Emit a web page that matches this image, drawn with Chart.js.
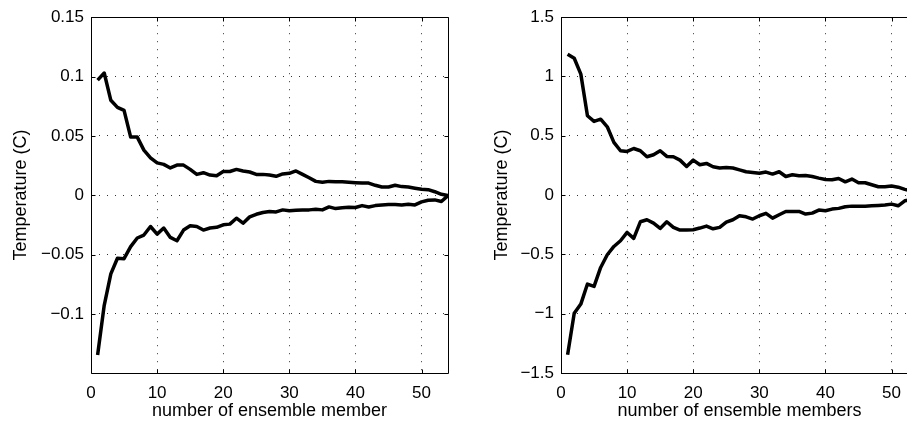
<!DOCTYPE html>
<html><head><meta charset="utf-8">
<script src="https://cdn.jsdelivr.net/npm/chart.js@4"></script>
<style>
html,body{margin:0;padding:0;background:#fff;overflow:hidden;width:907px;height:422px;position:relative}
#c1{position:absolute;left:0;top:0}
#c2{position:absolute;left:460px;top:0}
</style></head>
<body>
<canvas id="c1" width="460" height="422"></canvas>
<canvas id="c2" width="470" height="422"></canvas>
<script>
// ---- data ----
const members = [1,2,3,4,5,6,7,8,9,10,11,12,13,14,15,16,17,18,19,20,21,22,23,24,25,26,27,28,29,30,31,32,33,34,35,36,37,38,39,40,41,42,43,44,45,46,47,48,49,50,51,52,53,54];

const leftUpper = [0.097,0.103,0.080,0.074,0.0715,0.049,0.049,0.038,0.0315,0.0273,0.026,0.023,0.0254,0.0254,0.0218,0.0176,0.019,0.017,0.0165,0.020,0.020,0.0218,0.0205,0.0196,0.0176,0.0176,0.017,0.016,0.018,0.0185,0.0205,0.0176,0.0148,0.0117,0.011,0.0117,0.0114,0.0114,0.011,0.0106,0.0103,0.0103,0.0084,0.007,0.007,0.0084,0.0073,0.007,0.006,0.005,0.0047,0.003,0.0008,-0.0003];
const leftLower = [-0.1346,-0.0927,-0.0662,-0.053,-0.0534,-0.0433,-0.036,-0.0335,-0.0263,-0.0327,-0.0276,-0.0355,-0.0383,-0.0293,-0.0257,-0.0263,-0.0293,-0.0276,-0.027,-0.0249,-0.0243,-0.0193,-0.0235,-0.0182,-0.016,-0.0145,-0.0137,-0.014,-0.0123,-0.0131,-0.0126,-0.0123,-0.0123,-0.0118,-0.0123,-0.0098,-0.0112,-0.0106,-0.0101,-0.0103,-0.0087,-0.0098,-0.0087,-0.0081,-0.0078,-0.0078,-0.0081,-0.0076,-0.0081,-0.0056,-0.0042,-0.0039,-0.0053,-0.0003];

const rightUpper = [1.188,1.154,1.02,0.669,0.621,0.640,0.576,0.444,0.374,0.368,0.393,0.374,0.323,0.340,0.374,0.326,0.323,0.295,0.242,0.295,0.256,0.267,0.239,0.228,0.233,0.228,0.213,0.197,0.191,0.185,0.194,0.177,0.197,0.157,0.171,0.163,0.166,0.157,0.143,0.132,0.129,0.140,0.112,0.135,0.104,0.104,0.087,0.070,0.070,0.076,0.067,0.048,0.035,0.025];
const rightLower = [-1.346,-0.997,-0.919,-0.75,-0.770,-0.610,-0.503,-0.433,-0.385,-0.315,-0.365,-0.225,-0.208,-0.236,-0.281,-0.225,-0.272,-0.295,-0.295,-0.292,-0.278,-0.261,-0.284,-0.272,-0.228,-0.208,-0.174,-0.183,-0.202,-0.174,-0.154,-0.194,-0.166,-0.138,-0.138,-0.138,-0.160,-0.152,-0.126,-0.132,-0.118,-0.112,-0.098,-0.093,-0.093,-0.093,-0.090,-0.087,-0.084,-0.076,-0.090,-0.048,-0.040,-0.030];

const xTicks = [0,10,20,30,40,50];
const leftYTicks = [-0.1,-0.05,0,0.05,0.1,0.15];
const leftYLabels = ['\u22120.1','\u22120.05','0','0.05','0.1','0.15'];
const rightYTicks = [-1.5,-1,-0.5,0,0.5,1,1.5];
const rightYLabels = ['\u22121.5','\u22121','\u22120.5','0','0.5','1','1.5'];

const xTitleLeft = 'number of ensemble member';
const xTitleRight = 'number of ensemble members';
const yTitle = 'Temperature (C)';

// ---- styling / build ----
Chart.defaults.font.family = "'Liberation Sans', Arial, Helvetica, sans-serif";
Chart.defaults.color = '#000';

const frame = {
  id: 'frame',
  beforeDatasetsDraw(chart) {
    const {ctx, chartArea: a, scales: {x, y}} = chart;
    ctx.save();
    ctx.strokeStyle = '#000';
    ctx.lineWidth = 1;
    const L = Math.round(a.left) + 0.5, T = Math.round(a.top) + 0.5;
    const R = Math.round(a.right) + 0.5, B = Math.round(a.bottom) + 0.5;
    ctx.beginPath();
    ctx.rect(L, T, R - L, B - T);
    x.ticks.forEach(t => {
      const p = Math.round(x.getPixelForValue(t.value)) + 0.5;
      ctx.moveTo(p, B); ctx.lineTo(p, B - 4);
      ctx.moveTo(p, T); ctx.lineTo(p, T + 4);
    });
    y.ticks.forEach(t => {
      const p = Math.round(y.getPixelForValue(t.value)) + 0.5;
      ctx.moveTo(L, p); ctx.lineTo(L + 4, p);
      ctx.moveTo(R, p); ctx.lineTo(R - 4, p);
    });
    ctx.stroke();
    ctx.restore();
  }
};

function series(vals) {
  return {
    data: members.map((m, i) => ({x: m, y: vals[i]})),
    borderColor: '#000',
    borderWidth: 3.5,
    pointRadius: 0,
    tension: 0,
    borderJoinStyle: 'round',
    fill: false
  };
}

function makeChart(id, upper, lower, yMin, yMax, yT, yL, yAxisW, titlePad, xTitle) {
  return new Chart(document.getElementById(id), {
    type: 'line',
    data: {datasets: [series(upper), series(lower)]},
    options: {
      responsive: false,
      animation: false,
      events: [],
      layout: {padding: {top: 15, right: 12, left: 0, bottom: 0}},
      plugins: {legend: {display: false}, tooltip: {enabled: false}},
      scales: {
        x: {
          type: 'linear', min: 0, max: 54,
          afterBuildTicks: s => { s.ticks = xTicks.map(v => ({value: v})); },
          afterFit: s => { s.height = 49; },
          grid: {color: '#333', lineWidth: 1, drawTicks: false},
          border: {display: false, dash: [1, 7]},
          ticks: {padding: 10, font: {size: 17}, maxRotation: 0, callback: v => String(v)},
          title: {display: true, text: xTitle, font: {size: 18}, padding: {top: 0, bottom: 0}}
        },
        y: {
          type: 'linear', min: yMin, max: yMax,
          afterBuildTicks: s => { s.ticks = yT.map(v => ({value: v})); },
          afterFit: s => { s.width = yAxisW; },
          grid: {color: '#333', lineWidth: 1, drawTicks: false},
          border: {display: false, dash: [1, 7]},
          ticks: {padding: 7, font: {size: 17}, callback: v => { const i = yT.indexOf(v); return i >= 0 ? yL[i] : ''; }},
          title: {display: true, text: yTitle, font: {size: 18}, padding: {top: titlePad, bottom: 0}}
        }
      }
    },
    plugins: [frame]
  });
}

makeChart('c1', leftUpper, leftLower, -0.1497, 0.15, leftYTicks, leftYLabels, 91, 10, xTitleLeft);
makeChart('c2', rightUpper, rightLower, -1.5, 1.5, rightYTicks, rightYLabels, 101, 31, xTitleRight);
</script>
</body></html>
